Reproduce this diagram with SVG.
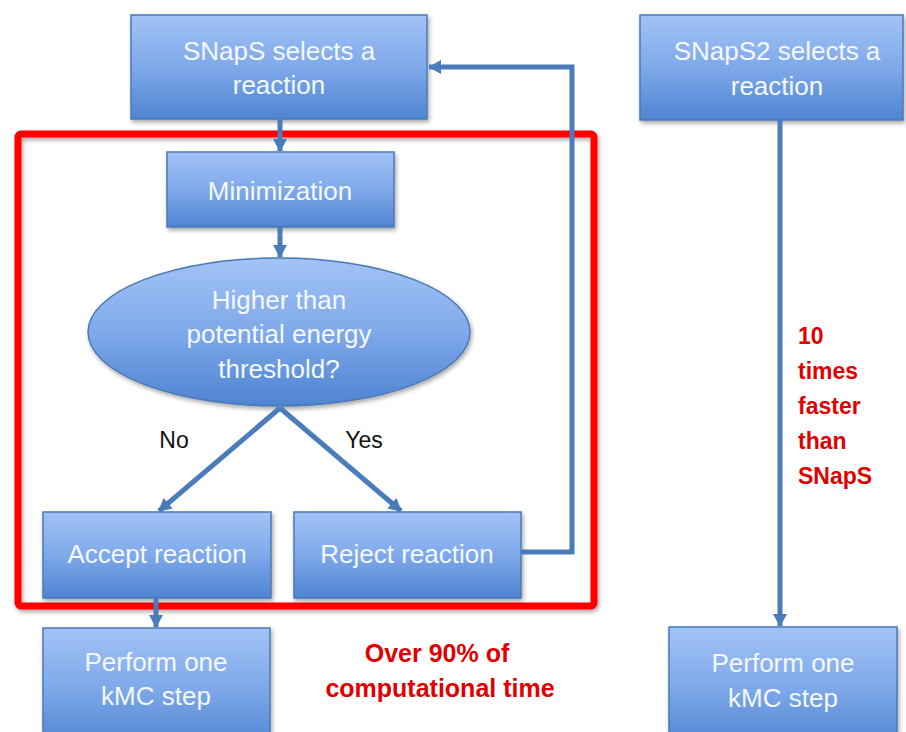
<svg xmlns="http://www.w3.org/2000/svg" width="906" height="732" viewBox="0 0 906 732">
  <defs>
    <linearGradient id="boxFill" x1="0" y1="0" x2="0" y2="1">
      <stop offset="0" stop-color="#a2c3f6"/>
      <stop offset="0.5" stop-color="#7fa9ea"/>
      <stop offset="1" stop-color="#4e84d2"/>
    </linearGradient>
    <filter id="shadow" x="-10%" y="-10%" width="125%" height="130%">
      <feDropShadow dx="1.5" dy="2.5" stdDeviation="2" flood-color="#000" flood-opacity="0.35"/>
    </filter>
    <marker id="arrow" viewBox="0 0 14 14" markerWidth="14" markerHeight="14" refX="12" refY="7" orient="auto" markerUnits="userSpaceOnUse">
      <path d="M0,0 L13,7 L0,14 z" fill="#4a7cbc"/>
    </marker>
    <style>
      .box { fill: url(#boxFill); stroke: #4a7ab6; stroke-width: 1.5; filter: url(#shadow); }
      .label { font-family: "Liberation Sans", Arial, sans-serif; font-size: 26px; fill: #f4f8ff; text-anchor: middle; }
      .branch { font-family: "Liberation Sans", Arial, sans-serif; font-size: 23px; fill: #111; text-anchor: middle; }
      .note { font-family: "Liberation Sans", Arial, sans-serif; font-size: 23px; font-weight: bold; fill: #e00000; }
      .note-big { font-size: 25px; }
      .conn { fill: none; stroke: #4a7cbc; stroke-width: 5; }
      .frame { fill: none; stroke: #ff0000; stroke-width: 7; filter: url(#shadow); }
    </style>
  </defs>
  <rect width="906" height="732" fill="#ffffff"/>

  <!-- region handled by the expensive check -->
  <rect class="frame" x="18" y="134" width="576" height="472" rx="3"/>

  <!-- left flow: SNapS -->
  <g id="snaps-select">
    <rect class="box" x="131" y="15" width="296" height="104"/>
    <text class="label" x="279" y="60">SNapS selects a</text>
    <text class="label" x="279" y="94">reaction</text>
  </g>
  <g id="minimization">
    <rect class="box" x="167" y="152" width="227" height="75"/>
    <text class="label" x="280" y="200">Minimization</text>
  </g>
  <g id="threshold">
    <ellipse class="box" cx="279" cy="332" rx="191" ry="74"/>
    <text class="label" x="279" y="309">Higher than</text>
    <text class="label" x="279" y="343">potential energy</text>
    <text class="label" x="279" y="378">threshold?</text>
  </g>
  <g id="accept">
    <rect class="box" x="43" y="512" width="228" height="86"/>
    <text class="label" x="157" y="563">Accept reaction</text>
  </g>
  <g id="reject">
    <rect class="box" x="294" y="512" width="227" height="86"/>
    <text class="label" x="407" y="563">Reject reaction</text>
  </g>
  <g id="kmc-left">
    <rect class="box" x="43" y="628" width="227" height="120"/>
    <text class="label" x="156" y="671">Perform one</text>
    <text class="label" x="156" y="705">kMC step</text>
  </g>

  <!-- right flow: SNapS2 -->
  <g id="snaps2-select">
    <rect class="box" x="640" y="15" width="263" height="105"/>
    <text class="label" x="777" y="60">SNapS2 selects a</text>
    <text class="label" x="777" y="95">reaction</text>
  </g>
  <g id="kmc-right">
    <rect class="box" x="669" y="627" width="228" height="120"/>
    <text class="label" x="783" y="672">Perform one</text>
    <text class="label" x="783" y="707">kMC step</text>
  </g>

  <!-- connectors -->
  <g id="connectors">
    <line class="conn" x1="280" y1="119" x2="280" y2="151" marker-end="url(#arrow)"/>
    <line class="conn" x1="280" y1="227" x2="280" y2="257" marker-end="url(#arrow)"/>
    <line class="conn" x1="280" y1="408" x2="159" y2="511" marker-end="url(#arrow)"/>
    <line class="conn" x1="280" y1="408" x2="401" y2="511" marker-end="url(#arrow)"/>
    <polyline class="conn" points="521,552 572,552 572,67 429,67" marker-end="url(#arrow)"/>
    <line class="conn" x1="156" y1="598" x2="156" y2="627" marker-end="url(#arrow)"/>
    <line class="conn" x1="780" y1="120" x2="780" y2="626" marker-end="url(#arrow)"/>
  </g>

  <!-- branch labels -->
  <text class="branch" x="174" y="448">No</text>
  <text class="branch" x="364" y="448">Yes</text>

  <!-- annotations -->
  <text class="note note-big" x="437" y="662" text-anchor="middle">Over 90% of</text>
  <text class="note note-big" x="440" y="697" text-anchor="middle">computational time</text>
  <text class="note" x="798" y="344">10</text>
  <text class="note" x="798" y="379">times</text>
  <text class="note" x="798" y="414">faster</text>
  <text class="note" x="798" y="449">than</text>
  <text class="note" x="798" y="484">SNapS</text>
</svg>
